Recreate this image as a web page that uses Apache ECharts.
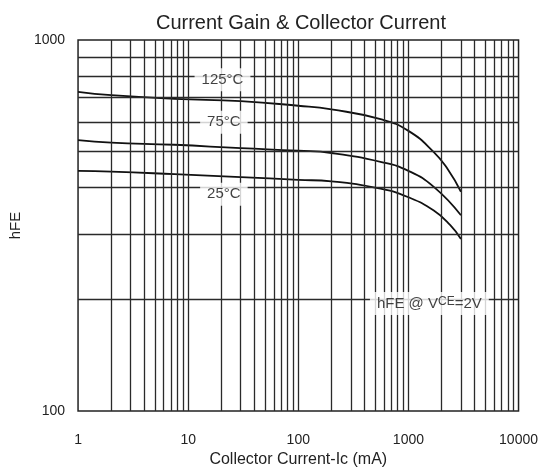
<!DOCTYPE html>
<html>
<head>
<meta charset="utf-8">
<script src="https://cdn.jsdelivr.net/npm/echarts@6/dist/echarts.min.js"></script>
<style>html,body{margin:0;padding:0;background:#fff}#c{width:541px;height:473px}</style>
</head>
<body>
<div id="c"></div>
<script>
// Collector current (mA) and hFE readings per temperature
const ic125 = [1, 2, 7.5, 30, 100, 200, 570, 1000, 1700, 2270, 3000];
const hfe125 = [725, 710, 694, 684, 665, 650, 611, 569, 499, 449, 390];
const ic75 = [1, 2, 7.5, 30, 100, 200, 570, 1000, 1700, 3000];
const hfe75 = [537, 529, 522, 511, 503, 496, 469, 444, 402, 337];
const ic25 = [1, 2, 7.5, 30, 100, 200, 570, 1000, 1700, 2400, 3000];
const hfe25 = [444, 442, 435, 427, 420, 416, 397, 377, 347, 317, 291];

const xTickLabels = ['1', '10', '100', '1000', '10000'];
const yTickLabels = ['100', '1000'];
const xGridValues = [2,3,4,5,6,7,8,9,10,20,30,40,50,60,70,80,90,100,200,300,400,500,600,700,800,900,1000,2000,3000,4000,5000,6000,7000,8000,9000];
const yGridValues = [200,300,400,500,600,700,800,900];

// annotations: [text, x (mA), y (hFE)]
const annotations = [
  ['125°C', 20.5, 781],
  ['75°C', 21.1, 600],
  ['25°C', 21.1, 384],
  ['{a|hFE @ V}{b|CE}{a|=2V}', 1550, 195]
];

const zip = (a, b) => a.map((v, i) => [v, b[i]]);
const curveStyle = { color: '#111', width: 1.8 };

const chart = echarts.init(document.getElementById('c'));
chart.setOption({
  animation: false,
  title: {
    text: 'Current Gain & Collector Current',
    left: 296, top: 8, textAlign: 'center',
    textStyle: { fontFamily: 'Liberation Sans', fontSize: 20, fontWeight: 'normal', color: '#222' }
  },
  grid: { left: 72, right: 22, top: 40, bottom: 59, show: true, borderColor: '#222', borderWidth: 1.5, backgroundColor: 'transparent' },
  xAxis: {
    type: 'log', logBase: 10, min: 1, max: 10000,
    name: 'Collector Current-Ic (mA)', nameLocation: 'middle', nameGap: 40,
    nameTextStyle: { fontFamily: 'Liberation Sans', fontSize: 16, color: '#222' },
    axisLine: { show: false }, axisTick: { show: false },
    splitLine: { show: false },
    axisLabel: {
      margin: 22, fontFamily: 'Liberation Sans', fontSize: 14, color: '#222',
      formatter: v => { const s = String(Math.round(v)); return xTickLabels.includes(s) ? s : ''; }
    }
  },
  yAxis: {
    type: 'log', logBase: 10, min: 100, max: 1000,
    name: 'hFE', nameLocation: 'middle', nameGap: 47, nameRotate: 90,
    nameTextStyle: { fontFamily: 'Liberation Sans', fontSize: 15, color: '#222' },
    axisLine: { show: false }, axisTick: { show: false },
    splitLine: { show: false },
    axisLabel: {
      margin: 13, fontFamily: 'Liberation Sans', fontSize: 14, color: '#222',
      formatter: v => { const s = String(Math.round(v)); return yTickLabels.includes(s) ? s : ''; }
    }
  },
  series: [
    {
      type: 'line', data: [], z: 1, silent: true,
      markLine: {
        silent: true, symbol: 'none', animation: false,
        label: { show: false },
        lineStyle: { type: 'solid', color: '#2a2a2a', width: 1.3 },
        data: xGridValues.map(v => ({ xAxis: v })).concat(yGridValues.map(v => ({ yAxis: v })))
      }
    },
    { type: 'line', data: zip(ic125, hfe125), smooth: 0.5, symbol: 'none', lineStyle: curveStyle, z: 3 },
    { type: 'line', data: zip(ic75, hfe75), smooth: 0.5, symbol: 'none', lineStyle: curveStyle, z: 3 },
    { type: 'line', data: zip(ic25, hfe25), smooth: 0.5, symbol: 'none', lineStyle: curveStyle, z: 3 },
    {
      type: 'scatter', symbolSize: 0, z: 5, silent: true,
      data: annotations.map(a => ({ value: [a[1], a[2]], label: { formatter: a[0] } })),
      label: {
        show: true, position: 'inside',
        backgroundColor: '#fff', padding: [4, 7],
        fontFamily: 'Liberation Sans', fontSize: 15, color: '#111',
        textBorderWidth: 0,
        rich: {
          a: { fontFamily: 'Liberation Sans', fontSize: 15, color: '#111', textBorderWidth: 0 },
          b: { fontFamily: 'Liberation Sans', fontSize: 12, color: '#111', textBorderWidth: 0, verticalAlign: 'top', padding: [0, 0, 3, 0] }
        }
      }
    }
  ]
});
</script>
</body>
</html>
